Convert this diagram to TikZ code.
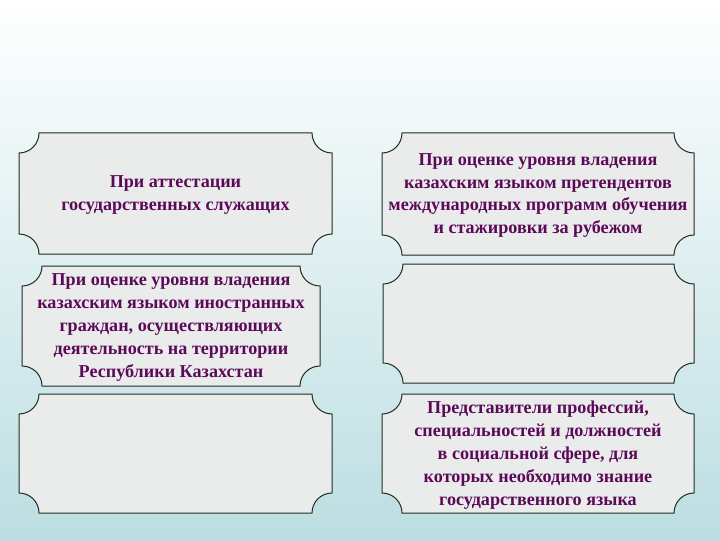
\documentclass[tikz,border=0pt]{standalone}
\usepackage{fontspec}
\setmainfont{Liberation Serif}
\definecolor{bgbottom}{RGB}{188,222,226}
\definecolor{plaquefill}{RGB}{234,236,236}
\definecolor{plaqueline}{RGB}{30,45,30}
\definecolor{txtpurple}{RGB}{92,10,88}
\tikzset{
  plaquestyle/.style={draw=plaqueline, line width=0.75pt, fill=plaquefill},
  plaquetext/.style={align=center, text=txtpurple, font=\bfseries\fontsize{13.6}{17.2}\selectfont, inner sep=0pt}
}
\newcommand\plaque[6]{%
  \draw[plaquestyle] ({#2+20},{540-#3}) -- ({#4-20},{540-#3})
    arc[start angle=180,end angle=270,radius=20] -- ({#4},{540-#5+20})
    arc[start angle=90,end angle=180,radius=20] -- ({#2+20},{540-#5})
    arc[start angle=0,end angle=90,radius=20] -- ({#2},{540-#3-20})
    arc[start angle=270,end angle=360,radius=20] -- cycle;
  \node[plaquetext] (#1) at ({(#2+#4)/2},{540-(#3+#5)/2-1.5}) {#6};}
\begin{document}
\begin{tikzpicture}[x=0.75pt,y=0.75pt]
\useasboundingbox (0,0) rectangle (720,540);
\shade[top color=white, bottom color=bgbottom] (0,0) rectangle (720,540);
\plaque{p1}{19}{133}{332}{254}{При аттестации\\государственных служащих}
\plaque{p2}{382}{133}{694}{255}{При оценке уровня владения\\казахским языком претендентов\\международных программ обучения\\и стажировки за рубежом}
\plaque{p3}{22}{266}{320}{386}{При оценке уровня владения\\казахским языком иностранных\\граждан, осуществляющих\\деятельность на территории\\Республики Казахстан}
\plaque{p4}{383}{264}{694}{383}{}
\plaque{p5}{19}{394}{332}{513}{}
\plaque{p6}{382}{394}{694}{513}{Представители профессий,\\специальностей и должностей\\в социальной сфере, для\\которых необходимо знание\\государственного языка}
\end{tikzpicture}
\end{document}
